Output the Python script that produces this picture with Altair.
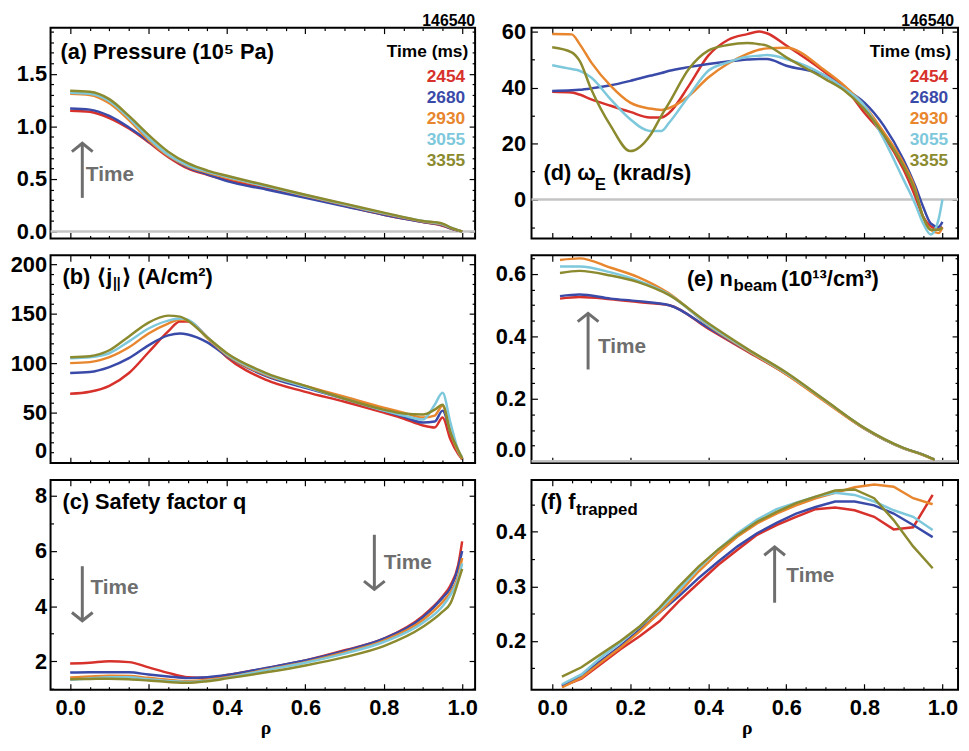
import altair as alt
import pandas as pd

TIMES = ["2454", "2680", "2930", "3055", "3355"]
COLORS = ["#d7312c", "#3a4aa8", "#e8862e", "#7ec8dc", "#8b8a2f"]
GRAY = "#6e6e6e"
FONT = "Liberation Sans, Arial, DejaVu Sans, sans-serif"
SERIF = "Liberation Serif, DejaVu Serif, serif"

# ---------------- (a) pressure (1e5 Pa) ----------------
RHO_A = [0.0, 0.05, 0.1, 0.15, 0.2, 0.25, 0.3, 0.35, 0.4, 0.5, 0.6, 0.7, 0.8, 0.9, 0.95, 0.97, 1.0]
P_2454 = [1.15, 1.14, 1.08, 0.98, 0.85, 0.71, 0.60, 0.54, 0.49, 0.41, 0.33, 0.245, 0.16, 0.09, 0.055, 0.03, 0.0]
P_2680 = [1.17, 1.16, 1.10, 0.99, 0.86, 0.72, 0.61, 0.545, 0.48, 0.40, 0.32, 0.24, 0.16, 0.09, 0.06, 0.03, 0.0]
P_2930 = [1.31, 1.30, 1.22, 1.06, 0.87, 0.72, 0.62, 0.56, 0.51, 0.43, 0.34, 0.255, 0.17, 0.095, 0.065, 0.035, 0.0]
P_3055 = [1.32, 1.31, 1.24, 1.08, 0.89, 0.73, 0.63, 0.57, 0.52, 0.43, 0.345, 0.26, 0.175, 0.10, 0.07, 0.04, 0.0]
P_3355 = [1.34, 1.33, 1.26, 1.10, 0.92, 0.76, 0.65, 0.58, 0.53, 0.44, 0.35, 0.265, 0.18, 0.10, 0.075, 0.04, 0.0]

# ---------------- (b) <j_par> (A/cm2) ----------------
RHO_B = [0.0, 0.05, 0.1, 0.15, 0.2, 0.25, 0.28, 0.3, 0.35, 0.4, 0.5, 0.6, 0.7, 0.8, 0.85, 0.9, 0.93, 0.95, 0.97, 0.99, 1.0]
J_2454 = [69, 71, 77, 90, 111, 132, 142, 142, 126, 106, 83, 71, 61, 50, 44, 37, 35, 45, 23, 8, 3]
J_2680 = [90, 91, 96, 105, 118, 128, 130, 129, 121, 107, 87, 75, 64, 52, 46, 40, 41, 52, 30, 10, 3]
J_2930 = [100, 101, 106, 116, 130, 140, 144, 143, 125, 108, 88, 77, 66, 55, 50, 45, 47, 57, 30, 10, 3]
J_3055 = [105, 106, 110, 122, 135, 143, 145, 144, 126, 109, 89, 76, 64, 52, 47, 43, 58, 70, 40, 12, 5]
J_3355 = [106, 107, 113, 127, 141, 148, 147, 143, 126, 110, 90, 77, 64, 53, 49, 48, 53, 58, 30, 12, 4]

# ---------------- (c) safety factor q ----------------
RHO_C = [0.0, 0.05, 0.1, 0.15, 0.2, 0.25, 0.3, 0.35, 0.4, 0.5, 0.6, 0.7, 0.8, 0.9, 0.95, 0.97, 0.99, 1.0]
Q_2454 = [1.92, 1.95, 2.0, 1.97, 1.78, 1.58, 1.42, 1.40, 1.50, 1.75, 2.03, 2.40, 2.82, 3.65, 4.35, 4.75, 5.5, 6.35]
Q_2680 = [1.59, 1.60, 1.60, 1.60, 1.52, 1.45, 1.39, 1.42, 1.50, 1.76, 2.03, 2.38, 2.82, 3.6, 4.3, 4.65, 5.4, 6.0]
Q_2930 = [1.41, 1.45, 1.48, 1.47, 1.40, 1.33, 1.28, 1.33, 1.42, 1.70, 1.97, 2.32, 2.75, 3.5, 4.15, 4.5, 5.1, 5.75]
Q_3055 = [1.33, 1.38, 1.42, 1.42, 1.35, 1.29, 1.25, 1.30, 1.40, 1.68, 1.95, 2.28, 2.70, 3.4, 4.0, 4.4, 5.0, 5.55]
Q_3355 = [1.35, 1.36, 1.37, 1.35, 1.30, 1.25, 1.22, 1.28, 1.38, 1.60, 1.85, 2.15, 2.55, 3.25, 3.8, 4.1, 4.9, 5.35]

# ---------------- (d) omega_E (krad/s) ----------------
RHO_D = [0.0, 0.05, 0.07, 0.1, 0.15, 0.2, 0.25, 0.28, 0.3, 0.35, 0.4, 0.45, 0.5, 0.53, 0.55, 0.6,
         0.7, 0.75, 0.8, 0.85, 0.9, 0.93, 0.95, 0.97, 0.99, 1.0]
W_2454 = [38.5, 38.2, 37.5, 35.8, 33.5, 31.3, 29.3, 29.3, 31.0, 40.6, 51.4, 57.0, 59.1, 60.0, 59.4, 55.0,
          45.4, 40.0, 31.0, 22.7, 10.8, 1.2, -6.0, -9.6, -10.7, -9.8]
W_2680 = [38.8, 39.0, 39.2, 39.7, 40.8, 42.4, 44.2, 45.2, 46.0, 47.3, 48.4, 49.3, 50.0, 50.2, 50.2, 47.8,
          44.2, 39.5, 34.6, 26.3, 14.3, 5.0, -2.4, -8.5, -9.8, -8.0]
W_2930 = [59.1, 59.0, 55.6, 49.0, 40.6, 34.6, 32.5, 32.0, 32.7, 37.0, 43.6, 48.5, 52.0, 53.5, 54.0, 54.2,
          46.0, 40.5, 33.5, 24.0, 13.0, 4.0, -6.0, -10.8, -12.0, -10.0]
W_3055 = [48.0, 46.6, 46.0, 43.6, 35.8, 28.7, 24.5, 24.5, 27.5, 37.0, 46.0, 49.0, 51.0, 51.4, 51.6, 50.2,
          44.2, 39.5, 33.5, 21.5, 7.2, -1.5, -8.4, -12.5, -7.2, 0.0]
W_3355 = [54.4, 52.6, 49.6, 39.4, 26.3, 17.3, 22.7, 30.0, 34.6, 46.6, 53.2, 55.2, 55.9, 55.5, 55.0, 50.8,
          43.0, 38.8, 32.3, 23.0, 12.0, 3.0, -6.0, -10.8, -10.8, -10.0]

# ---------------- (e) n_beam (1e13/cm3) ----------------
RHO_E = [0.02, 0.07, 0.15, 0.22, 0.3, 0.4, 0.5, 0.6, 0.7, 0.8, 0.9, 0.95, 0.98]
N_2454 = [0.521, 0.526, 0.519, 0.510, 0.500, 0.425, 0.352, 0.279, 0.192, 0.105, 0.042, 0.021, 0.005]
N_2680 = [0.529, 0.534, 0.521, 0.513, 0.500, 0.428, 0.354, 0.280, 0.193, 0.105, 0.042, 0.021, 0.005]
N_2930 = [0.645, 0.650, 0.620, 0.590, 0.537, 0.435, 0.355, 0.278, 0.190, 0.104, 0.041, 0.020, 0.005]
N_3055 = [0.624, 0.624, 0.605, 0.579, 0.534, 0.437, 0.358, 0.282, 0.194, 0.106, 0.042, 0.021, 0.005]
N_3355 = [0.603, 0.610, 0.595, 0.574, 0.532, 0.442, 0.360, 0.284, 0.195, 0.107, 0.043, 0.021, 0.005]

# ---------------- (f) f_trapped ----------------
RHO_F = [0.025, 0.075, 0.125, 0.175, 0.225, 0.275, 0.325, 0.375, 0.425, 0.475,
         0.525, 0.575, 0.625, 0.675, 0.725, 0.775, 0.825, 0.875, 0.925, 0.975]
F_2454 = [0.117, 0.131, 0.158, 0.185, 0.209, 0.236, 0.273, 0.306, 0.339, 0.367,
          0.394, 0.412, 0.427, 0.441, 0.444, 0.439, 0.427, 0.404, 0.408, 0.467]
F_2680 = [0.119, 0.136, 0.164, 0.191, 0.221, 0.252, 0.282, 0.315, 0.345, 0.373,
          0.397, 0.416, 0.433, 0.445, 0.455, 0.455, 0.448, 0.433, 0.412, 0.390]
F_2930 = [0.115, 0.133, 0.161, 0.188, 0.218, 0.252, 0.288, 0.327, 0.361, 0.391,
          0.415, 0.433, 0.448, 0.461, 0.471, 0.481, 0.486, 0.482, 0.461, 0.450]
F_3055 = [0.121, 0.139, 0.170, 0.197, 0.227, 0.258, 0.294, 0.333, 0.367, 0.397,
          0.422, 0.441, 0.453, 0.464, 0.471, 0.467, 0.455, 0.439, 0.427, 0.403]
F_3355 = [0.135, 0.152, 0.176, 0.200, 0.227, 0.261, 0.300, 0.336, 0.367, 0.394,
          0.418, 0.436, 0.452, 0.464, 0.475, 0.477, 0.461, 0.421, 0.373, 0.333]

X_MAJOR = [0.0, 0.2, 0.4, 0.6, 0.8, 1.0]
X_MINOR = [0.05, 0.1, 0.15, 0.25, 0.3, 0.35, 0.45, 0.5, 0.55, 0.65, 0.7, 0.75, 0.85, 0.9, 0.95]

ONE = pd.DataFrame({"k": [0]})
TITLE_FS = 22
SUB_FS = 17
LEG_FS = 17.5
TICK_FS = 22


def long_df(rho, series):
    rows = []
    for t, vals in zip(TIMES, series):
        for r, v in zip(rho, vals):
            rows.append({"rho": r, "val": v, "time": t})
    return pd.DataFrame(rows)


def make_axis(orient, values, size, labels=False, **kw):
    d = dict(orient=orient, values=values, tickSize=size, offset=-size, labels=labels,
             domain=False, grid=False, ticks=True, tickColor="black", tickWidth=1.2)
    d.update(kw)
    return alt.Axis(**d)


def ptext(text, x, y, size, color="black", align="left", font=FONT):
    return alt.Chart(ONE).mark_text(
        text=text, align=align, baseline="middle", font=font, fontSize=size,
        fontWeight="bold", color=color).encode(x=alt.value(x), y=alt.value(y))


def legend(w, ys):
    out = [ptext("Time (ms)", w - 7, ys[0], LEG_FS, align="right")]
    for i, t in enumerate(TIMES):
        out.append(ptext(t, w - 10, ys[1] + ys[2] * i, LEG_FS, COLORS[i], align="right"))
    return out


def arrow(xs, ys, x, y0, y1, up):
    d = pd.DataFrame({"x": [x], "y0": [y0], "y1": [y1]})
    shape = "M-1,0.8L0,0L1,0.8" if up else "M-1,-0.8L0,0L1,-0.8"
    rule = alt.Chart(d).mark_rule(color=GRAY, strokeWidth=3).encode(
        x=alt.X("x:Q", scale=xs, axis=None),
        y=alt.Y("y0:Q", scale=ys, axis=None), y2="y1:Q")
    head = alt.Chart(d).mark_point(shape=shape, filled=False, color=GRAY, strokeWidth=3,
                                   size=440, opacity=1).encode(
        x=alt.X("x:Q", scale=xs, axis=None),
        y=alt.Y("y1:Q", scale=ys, axis=None))
    return [rule, head]


def dtext(xs, ys, x, y, text="Time"):
    d = pd.DataFrame({"x": [x], "y": [y]})
    return alt.Chart(d).mark_text(text=text, align="left", baseline="middle", font=FONT,
                                  fontSize=21, fontWeight="bold", color=GRAY).encode(
        x=alt.X("x:Q", scale=xs, axis=None), y=alt.Y("y:Q", scale=ys, axis=None))


def panel(df, xdom, ydom, w, h, ymaj, ymin, yfmt, xlabels, yext, ypad, interp, annos_fn, zero=False):
    xs = alt.Scale(domain=xdom, nice=False, zero=False)
    ys = alt.Scale(domain=ydom, nice=False, zero=False)
    xkw = dict(labels=xlabels)
    if xlabels:
        xkw.update(format=".1f", labelPadding=8, labelFlush=False)
    layers = []
    if zero:
        layers.append(alt.Chart(pd.DataFrame({"y": [0]})).mark_rule(color="#c4c4c4", strokeWidth=2.5).encode(
            y=alt.Y("y:Q", scale=ys, axis=None)))
    lines = alt.Chart(df).mark_line(strokeWidth=2.5, interpolate=interp, clip=True).encode(
        x=alt.X("rho:Q", scale=xs, axis=make_axis("bottom", X_MAJOR, 6, **xkw), title=None),
        y=alt.Y("val:Q", scale=ys, title=None,
                axis=make_axis("left", ymaj, 6, labels=True, format=yfmt, labelPadding=ypad,
                               labelFlush=3, minExtent=yext)),
        color=alt.Color("time:N", scale=alt.Scale(domain=TIMES, range=COLORS), legend=None),
    )
    layers.append(lines)

    def ghost(xa, ya):
        return alt.Chart(df).mark_line(strokeOpacity=0).encode(
            x=alt.X("rho:Q", scale=xs, axis=xa, title=None),
            y=alt.Y("val:Q", scale=ys, axis=ya, title=None),
            detail="time:N")

    layers.append(ghost(make_axis("top", X_MAJOR, 6), make_axis("right", ymaj, 6)))
    layers.append(ghost(make_axis("bottom", X_MINOR, 3), make_axis("left", ymin, 3)))
    layers.append(ghost(make_axis("top", X_MINOR, 3), make_axis("right", ymin, 3)))
    layers.extend(annos_fn(xs, ys))
    if xlabels:
        # x-axis title (rho), centred under rho = 0.5
        cx = (0.5 - xdom[0]) / (xdom[1] - xdom[0]) * w
        layers.append(ptext("ρ", cx, h + 39, 20, align="center", font=SERIF))
    return alt.layer(*layers).resolve_axis(x="independent", y="independent").properties(width=w, height=h)


XL = [-0.05, 1.033]
XR = [-0.053, 1.04]
WL, WR = 429, 431
H1, H2, H3 = 213, 210, 212
YEXT_L, YPAD_L = 48, 4
YEXT_R, YPAD_R = 40, 6
LEG = [25, 49.5, 21.3]


def annos_a(xs, ys):
    return ([ptext("146540", WL, -7, 16, align="right"),
             ptext("(a) Pressure (10⁵ Pa)", 10, 25, TITLE_FS)]
            + legend(WL, LEG)
            + arrow(xs, ys, 0.031, 0.32, 0.84, True)
            + [dtext(xs, ys, 0.04, 0.54)])


def annos_b(xs, ys):
    return [ptext("(b) ⟨j", 12, 22, TITLE_FS),
            ptext("||", 63, 29, 14),
            ptext("⟩ (A/cm²)", 72, 22, TITLE_FS)]


def annos_c(xs, ys):
    return ([ptext("(c) Safety factor q", 12, 22, TITLE_FS)]
            + arrow(xs, ys, 0.031, 5.45, 3.47, False)
            + [dtext(xs, ys, 0.052, 4.67)]
            + arrow(xs, ys, 0.776, 6.59, 4.61, False)
            + [dtext(xs, ys, 0.80, 5.57)])


def annos_d(xs, ys):
    return ([ptext("146540", WR - 4, -7, 16, align="right"),
             ptext("(d) ω", 12, 147, TITLE_FS),
             ptext("E", 64, 159, SUB_FS),
             ptext("(krad/s)", 82, 147, TITLE_FS)]
            + legend(WR, LEG))


def annos_e(xs, ys):
    return ([ptext("(e) n", 157, 24, TITLE_FS),
             ptext("beam", 204, 31, SUB_FS),
             ptext("(10¹³/cm³)", 252, 24, TITLE_FS)]
            + arrow(xs, ys, 0.092, 0.294, 0.474, True)
            + [dtext(xs, ys, 0.1175, 0.365)])


def annos_f(xs, ys):
    return ([ptext("(f) f", 9, 22, TITLE_FS),
             ptext("trapped", 45, 30, SUB_FS)]
            + arrow(xs, ys, 0.57, 0.270, 0.372, True)
            + [dtext(xs, ys, 0.60, 0.318)])


df_a = long_df(RHO_A, [P_2454, P_2680, P_2930, P_3055, P_3355])
df_b = long_df(RHO_B, [J_2454, J_2680, J_2930, J_3055, J_3355])
df_c = long_df(RHO_C, [Q_2454, Q_2680, Q_2930, Q_3055, Q_3355])
df_d = long_df(RHO_D, [W_2454, W_2680, W_2930, W_3055, W_3355])
df_e = long_df(RHO_E, [N_2454, N_2680, N_2930, N_3055, N_3355])
df_f = long_df(RHO_F, [F_2454, F_2680, F_2930, F_3055, F_3355])

pa = panel(df_a, XL, [-0.066, 1.94], WL, H1, [0, 0.5, 1.0, 1.5],
           [0.1, 0.2, 0.3, 0.4, 0.6, 0.7, 0.8, 0.9, 1.1, 1.2, 1.3, 1.4, 1.6, 1.7, 1.8, 1.9],
           ".1f", False, YEXT_L, YPAD_L, "monotone", annos_a, zero=True)
pb = panel(df_b, XL, [-1, 209], WL, H2, [0, 50, 100, 150, 200],
           [10, 20, 30, 40, 60, 70, 80, 90, 110, 120, 130, 140, 160, 170, 180, 190],
           "d", False, YEXT_L, YPAD_L, "monotone", annos_b)
pc = panel(df_c, XL, [0.97, 8.58], WL, H3, [2, 4, 6, 8],
           [1, 3, 5, 7],
           "d", True, YEXT_L, YPAD_L, "monotone", annos_c)
pd_ = panel(df_d, XR, [-13.9, 61.4], WR, H1, [0, 20, 40, 60],
            [-10, 10, 30, 50],
            "d", False, YEXT_R, YPAD_R, "monotone", annos_d, zero=True)
pe = panel(df_e, XR, [-0.006, 0.66], WR, H2, [0.0, 0.2, 0.4, 0.6],
           [0.05, 0.1, 0.15, 0.25, 0.3, 0.35, 0.45, 0.5, 0.55, 0.65],
           ".1f", False, YEXT_R, YPAD_R, "monotone", annos_e, zero=True)
pf = panel(df_f, XR, [0.111, 0.4945], WR, H3, [0.2, 0.3, 0.4],
           [0.15, 0.25, 0.35, 0.45],
           ".1f", True, YEXT_R, YPAD_R, "linear", annos_f)

chart = alt.concat(pa, pd_, pb, pe, pc, pf, columns=2, spacing={"row": 17, "column": 57},
                   bounds="flush").properties(padding=0).configure_view(
    stroke="black", strokeWidth=2).configure_axis(
    labelFont=FONT, labelFontWeight="bold", labelFontSize=TICK_FS, labelColor="black",
    titleColor="black")

chart.save("out.html", embed_options={"renderer": "svg", "actions": False})
